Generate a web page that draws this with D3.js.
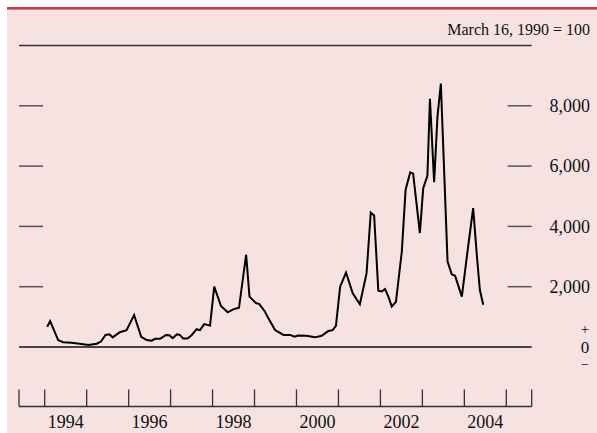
<!DOCTYPE html>
<meta charset="utf-8">
<script src="https://d3js.org/d3.v7.min.js"></script>
<style>
  body { margin: 0; background: #fff; }
  text { font-family: "Liberation Serif", "Times New Roman", serif; fill: #111; }
</style>
<svg id="chart" width="597" height="433"></svg>
<script>
  // Index level, March 16, 1990 = 100 (dates as decimal years)
  var dates = [1994.06, 1994.13, 1994.32, 1994.44, 1994.64, 1994.88, 1995.04, 1995.24, 1995.34, 1995.45,
    1995.54, 1995.62, 1995.79, 1995.95, 1996.13, 1996.30, 1996.43, 1996.55, 1996.63, 1996.75,
    1996.89, 1996.97, 1997.05, 1997.15, 1997.22, 1997.30, 1997.40, 1997.50, 1997.62, 1997.70,
    1997.80, 1997.94, 1998.04, 1998.20, 1998.36, 1998.49, 1998.63, 1998.80, 1998.88, 1999.04,
    1999.11, 1999.25, 1999.33, 1999.49, 1999.69, 1999.85, 1999.95, 2000.04, 2000.24, 2000.44,
    2000.60, 2000.76, 2000.86, 2000.94, 2001.04, 2001.18, 2001.34, 2001.51, 2001.67, 2001.77,
    2001.85, 2001.95, 2002.03, 2002.11, 2002.19, 2002.27, 2002.37, 2002.51, 2002.60, 2002.71,
    2002.78, 2002.94, 2003.02, 2003.12, 2003.18, 2003.28, 2003.36, 2003.44, 2003.60, 2003.70,
    2003.78, 2003.94, 2004.07, 2004.21, 2004.30, 2004.37, 2004.45];
  var values = [670, 860, 230, 160, 140, 100, 70, 110, 180, 400,
    420, 320, 490, 560, 1060, 340, 230, 210, 270, 270,
    400, 390, 290, 420, 400, 280, 280, 390, 590, 560,
    760, 710, 2000, 1360, 1150, 1250, 1300, 3060, 1670, 1450,
    1430, 1170, 950, 560, 400, 400, 340, 380, 370, 320,
    370, 530, 560, 700, 2000, 2470, 1780, 1420, 2450, 4460,
    4360, 1870, 1840, 1920, 1670, 1340, 1500, 3170, 5220, 5790,
    5750, 3780, 5270, 5680, 8230, 5470, 7650, 8740, 2830, 2410,
    2360, 1670, 3110, 4610, 3000, 1890, 1400];

  var yTicks = [2000, 4000, 6000, 8000];
  var tickYears = [1994, 1995, 1996, 1997, 1998, 1999, 2000, 2001, 2002, 2003, 2004, 2005];
  var labelYears = [1994, 1996, 1998, 2000, 2002, 2004];
  var unitLabel = "March 16, 1990 = 100";

  var svg = d3.select("#chart");

  var x = d3.scaleLinear().domain([1993.3875, 2005.605]).range([19, 531.7]);
  var y = d3.scaleLinear().domain([0, 10000]).range([347, 45.5]);

  // panel
  svg.append("rect").attr("x", 7).attr("y", 7).attr("width", 590).attr("height", 426)
    .attr("fill", "#f5e2e1");
  svg.append("rect").attr("x", 7).attr("y", 7).attr("width", 590).attr("height", 2.6)
    .attr("fill", "#c23d52");

  var x0 = x.range()[0], x1 = x.range()[1];

  // top rule and zero line
  svg.append("line").attr("x1", x0).attr("x2", x1).attr("y1", y(10000)).attr("y2", y(10000))
    .attr("stroke", "#333").attr("stroke-width", 1.3);
  svg.append("line").attr("x1", x0).attr("x2", x1).attr("y1", y(0)).attr("y2", y(0))
    .attr("stroke", "#111").attr("stroke-width", 1.5);

  // y ticks on both sides
  var tk = svg.append("g");
  tk.selectAll(".tl").data(yTicks).enter().append("line")
    .attr("x1", x0).attr("x2", x0 + 24)
    .attr("y1", function(d) { return y(d); }).attr("y2", function(d) { return y(d); })
    .attr("stroke", "#555").attr("stroke-width", 1.5);
  tk.selectAll(".tr").data(yTicks).enter().append("line")
    .attr("x1", x1 - 24).attr("x2", x1)
    .attr("y1", function(d) { return y(d); }).attr("y2", function(d) { return y(d); })
    .attr("stroke", "#555").attr("stroke-width", 1.5);
  tk.selectAll("text").data(yTicks).enter().append("text")
    .attr("x", 590).attr("y", function(d) { return y(d); })
    .attr("dy", "0.34em").attr("text-anchor", "end")
    .style("font-size", "18px")
    .text(function(d) { return d3.format(",")(d); });

  // + 0 - marker
  svg.append("text").attr("x", 585).attr("y", y(0) - 18).attr("dy", "0.34em")
    .attr("text-anchor", "middle").style("font-size", "15px").text("+");
  svg.append("text").attr("x", 585).attr("y", y(0)).attr("dy", "0.34em")
    .attr("text-anchor", "middle").style("font-size", "17px").text("0");
  svg.append("text").attr("x", 585).attr("y", y(0) + 17).attr("dy", "0.34em")
    .attr("text-anchor", "middle").style("font-size", "14px").text("\u2212");

  // unit label
  svg.append("text").attr("x", 590).attr("y", 35).attr("text-anchor", "end")
    .style("font-size", "16px").text(unitLabel);

  // bottom axis
  var axisY = 406.5;
  svg.append("line").attr("x1", x0).attr("x2", x1).attr("y1", axisY).attr("y2", axisY)
    .attr("stroke", "#333").attr("stroke-width", 1.3);
  var xt = [x.domain()[0]].concat(tickYears, [x.domain()[1]]);
  svg.append("g").selectAll("line").data(xt).enter().append("line")
    .attr("x1", function(d) { return x(d); }).attr("x2", function(d) { return x(d); })
    .attr("y1", axisY - 17).attr("y2", axisY)
    .attr("stroke", "#333").attr("stroke-width", 1.3);
  svg.append("g").selectAll("text").data(labelYears).enter().append("text")
    .attr("x", function(d) { return x(d + 0.5); }).attr("y", 428)
    .attr("text-anchor", "middle").style("font-size", "18px")
    .text(function(d) { return d; });

  // series
  var pts = dates.map(function(d, i) { return [d, values[i]]; });
  var line = d3.line()
    .x(function(d) { return x(d[0]); })
    .y(function(d) { return y(d[1]); });
  svg.append("path").datum(pts).attr("d", line)
    .attr("fill", "none").attr("stroke", "#000").attr("stroke-width", 2)
    .attr("stroke-linejoin", "miter");
</script>
